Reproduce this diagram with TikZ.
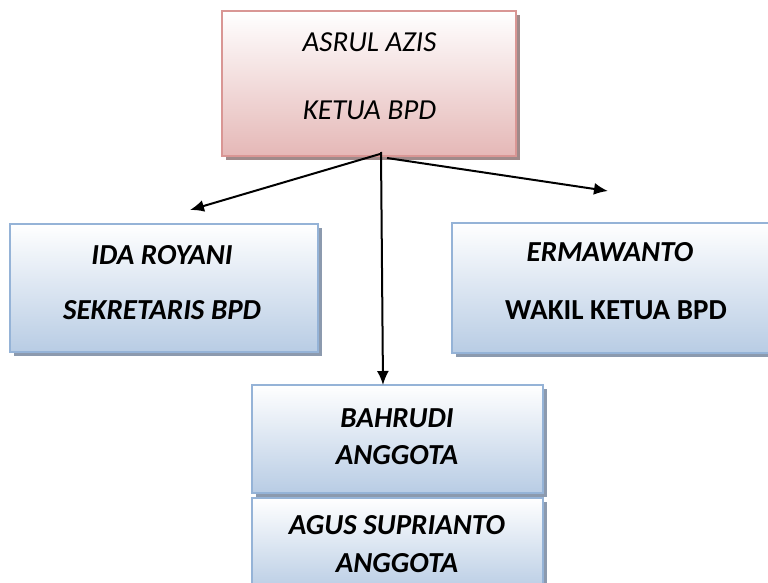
\documentclass[tikz,border=0pt]{standalone}
\usepackage{fontspec}
\setmainfont{Carlito}
\usetikzlibrary{arrows.meta,shadows}
\definecolor{pinkb}{HTML}{D99694}
\definecolor{pinkf}{HTML}{E5B8B7}
\definecolor{blueb}{HTML}{95B3D7}
\definecolor{bluef}{HTML}{B8CCE4}
\definecolor{shpink}{HTML}{A08A8A}
\definecolor{shblue}{HTML}{8C9AAE}
\tikzset{
  boxbase/.style={rectangle, line width=1.5pt, inner sep=0pt, shading=axis, shading angle=0},
  pinkbox/.style={boxbase, draw=pinkb, top color=white, bottom color=pinkf,
     drop shadow={shadow xshift=4pt, shadow yshift=-4pt, fill=shpink, opacity=1}},
  bluebox/.style={boxbase, draw=blueb, top color=white, bottom color=bluef,
     drop shadow={shadow xshift=4pt, shadow yshift=-4pt, fill=shblue, opacity=1}},
  lbl/.style={inner sep=0pt, anchor=center},
  arr/.style={line width=2pt, -{Latex[length=14pt,width=12pt]}}
}
\newcommand{\lfs}{\fontsize{29}{34}\selectfont}
\begin{document}
\begin{tikzpicture}[x=1pt,y=-1pt]
\useasboundingbox (0,0) rectangle (768,583);
\node[pinkbox, minimum width=294pt, minimum height=145pt] (top) at (369,83.5) {};
\node[bluebox, minimum width=308pt, minimum height=128pt] (left) at (164,288) {};
\node[bluebox, minimum width=328pt, minimum height=130pt] (right) at (616,288) {};
\node[bluebox, minimum width=291pt, minimum height=108pt] (bah) at (397.5,439) {};
\node[bluebox, minimum width=291pt, minimum height=94pt] (agus) at (397.5,545) {};
% labels
\node[lbl, font=\lfs\itshape] (t1) at (369.5,42) {ASRUL AZIS};
\node[lbl, font=\lfs\itshape] (t2) at (369.5,110) {KETUA BPD};
\node[lbl, font=\lfs\bfseries\itshape] (l1) at (162,255) {IDA ROYANI};
\node[lbl, font=\lfs\bfseries\itshape] (l2) at (162,310) {SEKRETARIS BPD};
\node[lbl, font=\lfs\bfseries\itshape] (r1) at (610,252) {ERMAWANTO};
\node[lbl, font=\lfs\bfseries] (r2) at (616,310) {WAKIL KETUA BPD};
\node[lbl, font=\lfs\bfseries\itshape] (b1) at (397,418) {BAHRUDI};
\node[lbl, font=\lfs\bfseries\itshape] (b2) at (397,455) {ANGGOTA};
\node[lbl, font=\lfs\bfseries\itshape] (a1) at (397,525) {AGUS SUPRIANTO};
\node[lbl, font=\lfs\bfseries\itshape] (a2) at (397,563) {ANGGOTA};
% arrows
\coordinate (sL) at (380,154);
\coordinate (sR) at (387,158);
\coordinate (sD) at (381,152);
\coordinate (eL) at (190,210);
\coordinate (eR) at (608,191);
\coordinate (eD) at (383,385);
\draw[arr] (sL) -- (eL);
\draw[arr] (sR) -- (eR);
\draw[arr] (sD) -- (eD);
\end{tikzpicture}
\end{document}
